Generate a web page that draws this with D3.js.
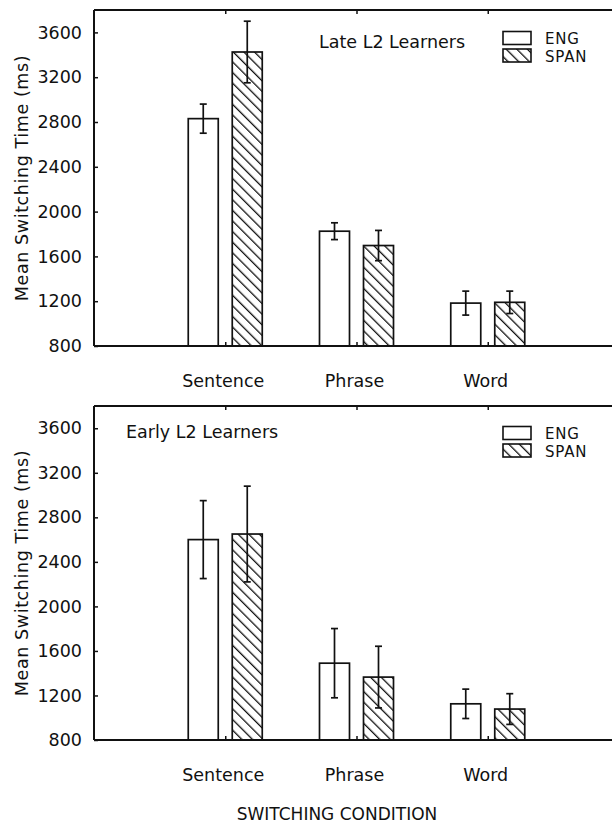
<!DOCTYPE html>
<html>
<head>
<meta charset="utf-8">
<script src="https://cdn.jsdelivr.net/npm/d3@7"></script>
<style>
  html, body { margin: 0; padding: 0; background: #fff; }
  svg { display: block; }
  text { font-family: "DejaVu Sans", sans-serif; fill: #111; }
</style>
</head>
<body>
<svg id="chart" width="612" height="823"></svg>
<script>
// ---- data ----
const categories = ["Sentence", "Phrase", "Word"];
const languages = ["ENG", "SPAN"];
const yTicks = [800, 1200, 1600, 2000, 2400, 2800, 3200, 3600];

const lateEng = [2830, 1825, 1183];
const lateEngErr = [130, 75, 107];
const lateSpan = [3425, 1697, 1190];
const lateSpanErr = [275, 135, 100];

const earlyEng = [2600, 1490, 1125];
const earlyEngErr = [350, 311, 132];
const earlySpan = [2650, 1365, 1078];
const earlySpanErr = [430, 277, 138];

const panelTitles = ["Late L2 Learners", "Early L2 Learners"];
const yTitle = "Mean Switching Time (ms)";
const xTitle = "SWITCHING CONDITION";

// ---- drawing ----
const svg = d3.select("#chart");
const defs = svg.append("defs");
const pat = defs.append("pattern")
  .attr("id", "hatch").attr("patternUnits", "userSpaceOnUse")
  .attr("width", 7.5).attr("height", 7.5)
  .attr("patternTransform", "rotate(-45)");
pat.append("rect").attr("width", 7.5).attr("height", 7.5).attr("fill", "#fff");
pat.append("line").attr("x1", 0).attr("y1", 0).attr("x2", 0).attr("y2", 7.5)
  .attr("stroke", "#111").attr("stroke-width", 2.6);

const left = 94, right = 619;
const x = d3.scalePoint().domain(categories).range([left, right]).padding(1);
const xInner = d3.scaleBand().domain(languages).range([-37, 37]).paddingInner(14 / 44);

function panel(cfg) {
  const y = d3.scaleLinear().domain([800, 3800]).range([cfg.bottom, cfg.top]);
  const g = svg.append("g");
  const series = [
    { lang: "ENG", vals: cfg.eng, errs: cfg.engErr },
    { lang: "SPAN", vals: cfg.span, errs: cfg.spanErr }
  ];

  // bars
  series.forEach(s => {
    const bars = categories.map((c, i) => ({ c, v: s.vals[i], e: s.errs[i] }));
    g.selectAll(null).data(bars).enter().append("rect")
      .attr("x", d => x(d.c) + xInner(s.lang))
      .attr("width", xInner.bandwidth())
      .attr("y", d => y(d.v))
      .attr("height", d => y(800) - y(d.v))
      .attr("fill", s.lang === "ENG" ? "#fff" : "url(#hatch)")
      .attr("stroke", "#111").attr("stroke-width", 1.7);
    // error bars
    const eb = g.selectAll(null).data(bars).enter().append("g")
      .attr("transform", d => `translate(${x(d.c) + xInner(s.lang) + xInner.bandwidth() / 2},0)`);
    eb.append("line").attr("x1", 0).attr("x2", 0)
      .attr("y1", d => y(d.v + d.e)).attr("y2", d => y(d.v - d.e))
      .attr("stroke", "#111").attr("stroke-width", 1.7);
    eb.append("line").attr("x1", -3.5).attr("x2", 3.5)
      .attr("y1", d => y(d.v + d.e)).attr("y2", d => y(d.v + d.e))
      .attr("stroke", "#111").attr("stroke-width", 1.7);
    eb.append("line").attr("x1", -3.5).attr("x2", 3.5)
      .attr("y1", d => y(d.v - d.e)).attr("y2", d => y(d.v - d.e))
      .attr("stroke", "#111").attr("stroke-width", 1.7);
  });

  // left axis
  const yAxis = d3.axisLeft(y).tickValues(yTicks).tickSize(-4).tickPadding(12).tickFormat(d3.format("d"));
  const ya = g.append("g").attr("transform", `translate(${left},0)`).call(yAxis);
  ya.select(".domain").remove();
  ya.selectAll(".tick line").attr("stroke", "#111").attr("stroke-width", 1.5);
  ya.selectAll(".tick text").attr("font-size", 17.5).attr("font-family", "DejaVu Sans").attr("fill", "#111");
  g.append("line").attr("x1", left).attr("x2", left).attr("y1", cfg.top).attr("y2", y(800))
    .attr("stroke", "#111").attr("stroke-width", 2);

  // top border with inward ticks
  const topAxis = d3.axisTop(x).tickSize(-4).tickFormat("");
  const ta = g.append("g").attr("transform", `translate(0,${cfg.top})`).call(topAxis);
  ta.select(".domain").remove();
  ta.selectAll(".tick line").attr("stroke", "#111").attr("stroke-width", 1.5);
  g.append("line").attr("x1", left).attr("x2", 612).attr("y1", cfg.top).attr("y2", cfg.top)
    .attr("stroke", "#111").attr("stroke-width", 2);

  // bottom baseline with inward ticks and labels
  const botAxis = d3.axisBottom(x).tickSize(-4).tickPadding(0).tickFormat("");
  const ba = g.append("g").attr("transform", `translate(0,${y(800)})`).call(botAxis);
  ba.select(".domain").remove();
  ba.selectAll(".tick line").attr("stroke", "#111").attr("stroke-width", 1.5);
  g.append("line").attr("x1", left).attr("x2", 612).attr("y1", y(800)).attr("y2", y(800))
    .attr("stroke", "#111").attr("stroke-width", 2);
  g.selectAll(null).data(categories).enter().append("text")
    .attr("x", d => x(d) - 2).attr("y", y(800) + 41)
    .attr("text-anchor", "middle").attr("font-size", 17.5)
    .text(d => d);

  // y title
  g.append("text")
    .attr("transform", `translate(28,${(cfg.top + y(800)) / 2}) rotate(-90)`)
    .attr("text-anchor", "middle").attr("font-size", 17.5).attr("letter-spacing", 0.6)
    .text(yTitle);

  // panel title
  g.append("text").attr("x", cfg.titleX).attr("y", cfg.titleY)
    .attr("font-size", 17.5).text(cfg.title);

  // legend
  const step = 17.5;
  const lg = g.append("g");
  languages.forEach((lang, i) => {
    lg.append("rect").attr("x", 503).attr("y", cfg.legY + i * step - 12.5)
      .attr("width", 28).attr("height", 13)
      .attr("fill", lang === "ENG" ? "#fff" : "url(#hatch)")
      .attr("stroke", "#111").attr("stroke-width", 1.6);
    lg.append("text").attr("x", 545).attr("y", cfg.legY + i * step)
      .attr("font-size", 15).attr("letter-spacing", 0.8).text(lang);
  });
}

panel({ top: 10, bottom: 346, eng: lateEng, engErr: lateEngErr, span: lateSpan, spanErr: lateSpanErr,
        title: panelTitles[0], titleX: 319, titleY: 48, legY: 44 });
panel({ top: 406, bottom: 740, eng: earlyEng, engErr: earlyEngErr, span: earlySpan, spanErr: earlySpanErr,
        title: panelTitles[1], titleX: 126, titleY: 438, legY: 439 });

svg.append("text").attr("x", 337).attr("y", 820).attr("text-anchor", "middle")
  .attr("font-size", 17).text(xTitle);
</script>
</body>
</html>
